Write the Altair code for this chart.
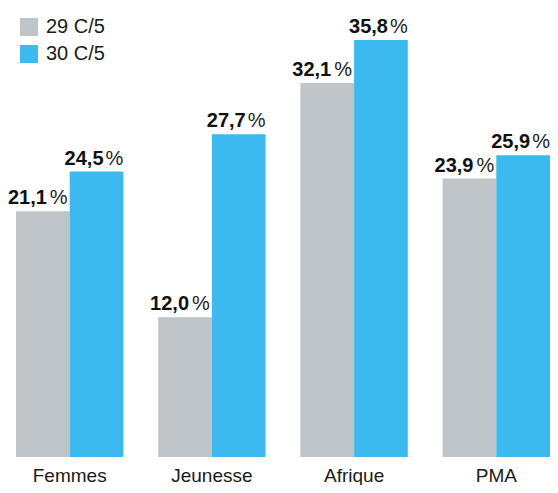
import altair as alt
import pandas as pd

categories = ["Femmes", "Jeunesse", "Afrique", "PMA"]
series = ["29 C/5", "30 C/5"]
values_29 = [21.1, 12.0, 32.1, 23.9]
values_30 = [24.5, 27.7, 35.8, 25.9]
colors = ["#BEC4C8", "#3CB9EE"]

rows = []
for c, a, b in zip(categories, values_29, values_30):
    rows.append({"cat": c, "series": series[0], "value": a})
    rows.append({"cat": c, "series": series[1], "value": b})
df = pd.DataFrame(rows)
df["num"] = df["value"].map(lambda v: f"{v:.1f}".replace(".", ","))
df["pct"] = "%"

FONT = "Liberation Sans"

x = alt.X(
    "cat:N",
    sort=categories,
    scale=alt.Scale(paddingInner=0.2448, paddingOuter=0),
    axis=alt.Axis(
        title=None, labelAngle=0, domain=False, ticks=False,
        labelFontSize=19, labelFont=FONT, labelColor="#1a1a1a",
        labelPadding=9, labelBaseline="top", grid=False,
    ),
)
xo = alt.XOffset("series:N", sort=series, scale=alt.Scale(paddingInner=0, paddingOuter=0))
y = alt.Y("value:Q", scale=alt.Scale(domain=[0, 38.54], nice=False), axis=None)

base = alt.Chart(df)

bars = base.mark_bar().encode(
    x=x, xOffset=xo, y=y,
    color=alt.Color(
        "series:N",
        scale=alt.Scale(domain=series, range=colors),
        legend=alt.Legend(
            title=None, orient="none", legendX=3, legendY=9,
            symbolType="square", symbolSize=324, symbolStrokeWidth=0,
            symbolOpacity=1,
            labelFontSize=20, labelFont=FONT, labelColor="#1a1a1a",
            labelOffset=7, rowPadding=7, padding=0, labelLimit=0,
        ),
    ),
)

def labels(s, dnum, dpct):
    sub = base.transform_filter(alt.datum.series == s)
    num = sub.mark_text(
        align="right", baseline="alphabetic", dx=dnum, dy=-7,
        font=FONT, fontSize=20, fontWeight="bold", color="#111111",
    ).encode(x=x, xOffset=xo, y=y, text="num:N")
    pct = sub.mark_text(
        align="left", baseline="alphabetic", dx=dpct, dy=-7,
        font=FONT, fontSize=20, fontWeight="normal", color="#222222",
    ).encode(x=x, xOffset=xo, y=y, text="pct:N")
    return num + pct

chart = alt.layer(
    bars,
    labels(series[0], 4, 7),
    labels(series[1], 7, 9),
).properties(
    width=534, height=449,
    autosize=alt.AutoSizeParams(type="none"),
    padding={"left": 8, "top": 0, "right": 0, "bottom": 28},
).configure_view(stroke=None)

chart.save("out.html", embed_options={"renderer": "svg", "actions": False})
